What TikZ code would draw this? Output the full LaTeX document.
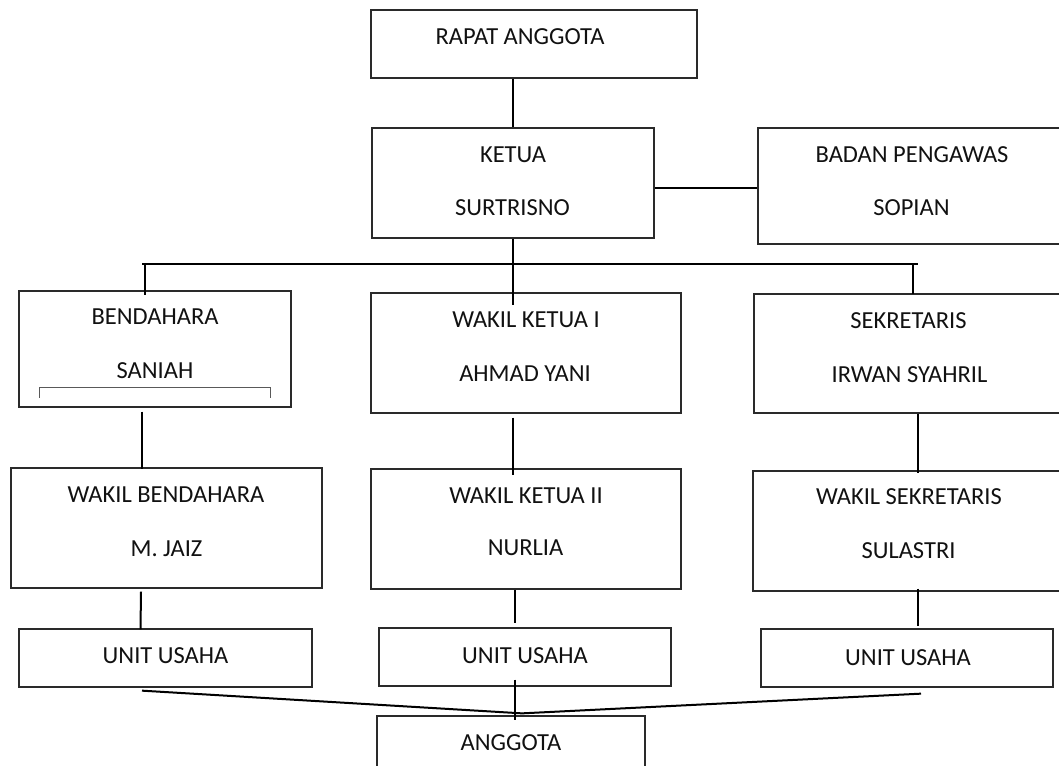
\documentclass[tikz,border=0pt]{standalone}
\usepackage{fontspec}
\setmainfont{Carlito}
\usetikzlibrary{fit}
\definecolor{boxline}{HTML}{2A2A2A}
\definecolor{ink}{HTML}{111111}
\tikzset{
  orgbox/.style={draw=boxline, line width=1.3pt, inner sep=0pt},
  txt/.style={anchor=base, inner sep=0pt, text=ink, font=\fontsize{24.5}{29}\selectfont},
  conn/.style={draw=black, line width=2pt},
  bracketline/.style={draw=gray!70!black, line width=1.1pt}
}
\newcommand\orgbox[5]{\node[orgbox, fit={(#2,#3)(#4,#5)}] (#1) {};}
\newcommand\lbl[4]{\node[txt] (#1) at (#2,#3+7.7) {#4};}
\begin{document}
\begin{tikzpicture}[x=1pt,y=-1pt]
\path[use as bounding box] (0,0) rectangle (1059,765);
\clip (0,0) rectangle (1059,765);
% boxes
\orgbox{rapat}{371}{10}{697}{78}
\orgbox{ketua}{372}{128}{654}{238}
\orgbox{badan}{758}{128}{1066}{244}
\orgbox{bend}{19}{291}{291}{407}
\orgbox{wkA}{371}{293}{681}{413}
\orgbox{sek}{754}{294}{1064}{413}
\orgbox{wbend}{11}{468}{322}{588}
\orgbox{wkB}{371}{469}{681}{589}
\orgbox{wsek}{753}{471}{1065}{591}
\orgbox{uL}{19}{629}{312}{687}
\orgbox{uM}{379}{628}{671}{686}
\orgbox{uR}{761}{629}{1053}{687}
\orgbox{angg}{377}{716}{645}{800}
% texts
\lbl{tRapat}{520}{37}{RAPAT ANGGOTA}
\lbl{tKetua}{513}{155}{KETUA}
\lbl{tKetuaN}{512.5}{208}{SURTRISNO}
\lbl{tBadan}{912}{155}{BADAN PENGAWAS}
\lbl{tBadanN}{911.5}{208}{SOPIAN}
\lbl{tBend}{155}{317}{BENDAHARA}
\lbl{tBendN}{155}{371}{SANIAH}
\lbl{tWkA}{526}{320}{WAKIL KETUA I}
\lbl{tWkAN}{525}{374}{AHMAD YANI}
\lbl{tSek}{908.5}{321}{SEKRETARIS}
\lbl{tSekN}{909.5}{375}{IRWAN SYAHRIL}
\lbl{tWbend}{166}{495}{WAKIL BENDAHARA}
\lbl{tWbendN}{166.5}{548.7}{M. JAIZ}
\lbl{tWkB}{526}{495.8}{WAKIL KETUA II}
\lbl{tWkBN}{525.5}{548}{NURLIA}
\lbl{tWsek}{909}{497}{WAKIL SEKRETARIS}
\lbl{tWsekN}{908.5}{550.5}{SULASTRI}
\lbl{tUL}{165.5}{656}{UNIT USAHA}
\lbl{tUM}{525}{656}{UNIT USAHA}
\lbl{tUR}{908}{657.5}{UNIT USAHA}
\lbl{tAngg}{511}{743}{ANGGOTA}
% bracket inside SANIAH box
\draw[bracketline] ([xshift=21pt,yshift=10pt]bend.south west) -- ([xshift=21pt,yshift=20pt]bend.south west)
  -- ([xshift=-21pt,yshift=20pt]bend.south east) -- ([xshift=-21pt,yshift=10pt]bend.south east);
% connectors
\coordinate (busL) at (142,264);
\coordinate (busR) at (918,264);
\draw[conn] (ketua.north |- rapat.south) -- (ketua.north);
\draw[conn] ([yshift=-4.5pt]ketua.east) -- ([yshift=-4.5pt]ketua.east -| badan.west);
\draw[conn] (ketua.south) -- ([yshift=-13pt]wkA.north -| ketua.south);
\draw[conn] (busL) -- (busR);
\draw[conn] ([xshift=-10pt,yshift=27pt]bend.north) -- ([xshift=-10pt,yshift=-5pt]bend.north);
\draw[conn] ([xshift=4pt,yshift=30pt]sek.north) -- ([xshift=4pt,yshift=-1pt]sek.north);
\draw[conn] ([xshift=-13pt,yshift=-4pt]bend.south) -- ([xshift=-24.5pt,yshift=-2pt]wbend.north);
\draw[conn] ([xshift=-13pt,yshift=-4pt]wkA.south) -- ([xshift=-13pt,yshift=-7pt]wkB.north);
\draw[conn] ([xshift=9pt]sek.south) -- ([xshift=9pt,yshift=-3pt]wsek.north);
\draw[conn] ([xshift=-25.5pt,yshift=-3pt]wbend.south) -- ([xshift=-25pt,yshift=-1pt]uL.north);
\draw[conn] ([xshift=-11pt]wkB.south) -- ([xshift=-10pt,yshift=4pt]uM.north);
\draw[conn] ([xshift=9pt,yshift=3pt]wsek.south) -- ([xshift=11pt,yshift=2pt]uR.north);
\draw[conn] ([xshift=-10pt,yshift=7pt]uM.south) -- ([xshift=4pt,yshift=-5pt]angg.north);
\draw[conn] ([xshift=-23.5pt,yshift=-3pt]uL.south) -- ([xshift=11pt,yshift=2pt]angg.north);
\draw[conn] ([xshift=14pt,yshift=-6pt]uR.south) -- ([xshift=11pt,yshift=2pt]angg.north);
\end{tikzpicture}
\end{document}
